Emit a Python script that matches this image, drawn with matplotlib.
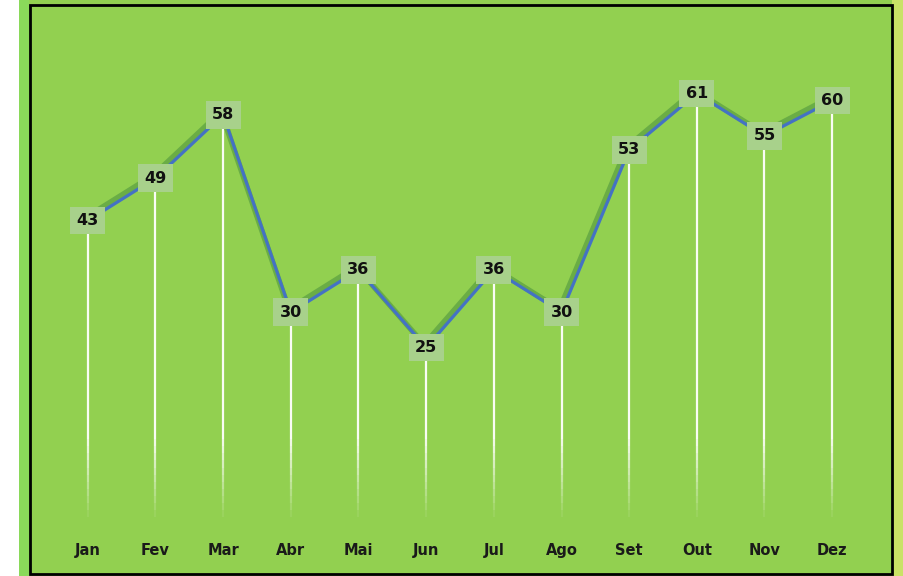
import numpy as np
import matplotlib.pyplot as plt
import matplotlib.transforms as mtransforms
from matplotlib.patches import Rectangle

# datos
meses = ['Jan', 'Fev', 'Mar', 'Abr', 'Mai', 'Jun', 'Jul', 'Ago', 'Set', 'Out', 'Nov', 'Dez']
valores = [43, 49, 58, 30, 36, 25, 36, 30, 53, 61, 55, 60]

fig = plt.figure(figsize=(9.04, 5.76), dpi=100)
fig.patch.set_facecolor('white')
W, H = 904.0, 576.0

# fondo y marco
fig.patches.append(Rectangle((19 / W, 0), 11 / W, 1, transform=fig.transFigure,
                             facecolor='#8ad95a', edgecolor='none', zorder=-3))
fig.patches.append(Rectangle((29 / W, 0), 863 / W, 1, transform=fig.transFigure,
                             facecolor='#92d050', edgecolor='none', zorder=-3))
fig.patches.append(Rectangle((892 / W, 0), 12 / W, 1, transform=fig.transFigure,
                             facecolor='#c9e266', edgecolor='none', zorder=-3))
fig.patches.append(Rectangle((30 / W, (576 - 574) / H), 862 / W, 569 / H,
                             transform=fig.transFigure, facecolor='none',
                             edgecolor='black', linewidth=2, zorder=-2))

ax = fig.add_axes([54 / W, (576 - 524) / H, 812 / W, 494 / H])
ax.set_zorder(5)
ax.patch.set_visible(False)
x = np.arange(len(meses))

# lineas verticales blancas con desvanecimiento abajo
for xi, v in zip(x, valores):
    ax.plot([xi, xi], [v, 12], color='white', lw=1.6, alpha=0.95, zorder=1,
            solid_capstyle='butt')
    segs = np.linspace(12, 1, 12)
    for k in range(len(segs) - 1):
        a = 0.95 * (1 - (k + 1) / len(segs))
        ax.plot([xi, xi], [segs[k], segs[k + 1]], color='white', lw=1.6,
                alpha=a, zorder=1, solid_capstyle='butt')

# linea verde (sombra) y linea azul
sombra = mtransforms.offset_copy(ax.transData, fig=fig, x=-2, y=3, units='dots')
ax.plot(x, valores, color='#6aad45', lw=4, transform=sombra, zorder=2,
        solid_joinstyle='miter')
ax.plot(x, valores, color='#4472c4', lw=2.3, zorder=3, solid_joinstyle='miter')

# etiquetas
for xi, v in zip(x, valores):
    ax.text(xi, v, str(v), ha='center', va='center', fontsize=11.5,
            fontweight='bold', family='DejaVu Sans', color='#111111', zorder=5,
            bbox=dict(boxstyle='square,pad=0.4', facecolor='#a8d18b',
                      edgecolor='none'))

ax.set_xlim(-0.5, 11.5)
ax.set_ylim(0, 70)
ax.set_xticks(x)
ax.set_xticklabels(meses, fontsize=10.5, fontweight='bold', family='DejaVu Sans',
                   color='#1a1a1a')
ax.tick_params(axis='x', length=0, pad=14)
ax.set_yticks([])
for s in ax.spines.values():
    s.set_visible(False)

fig.savefig('out.png', dpi=100)
